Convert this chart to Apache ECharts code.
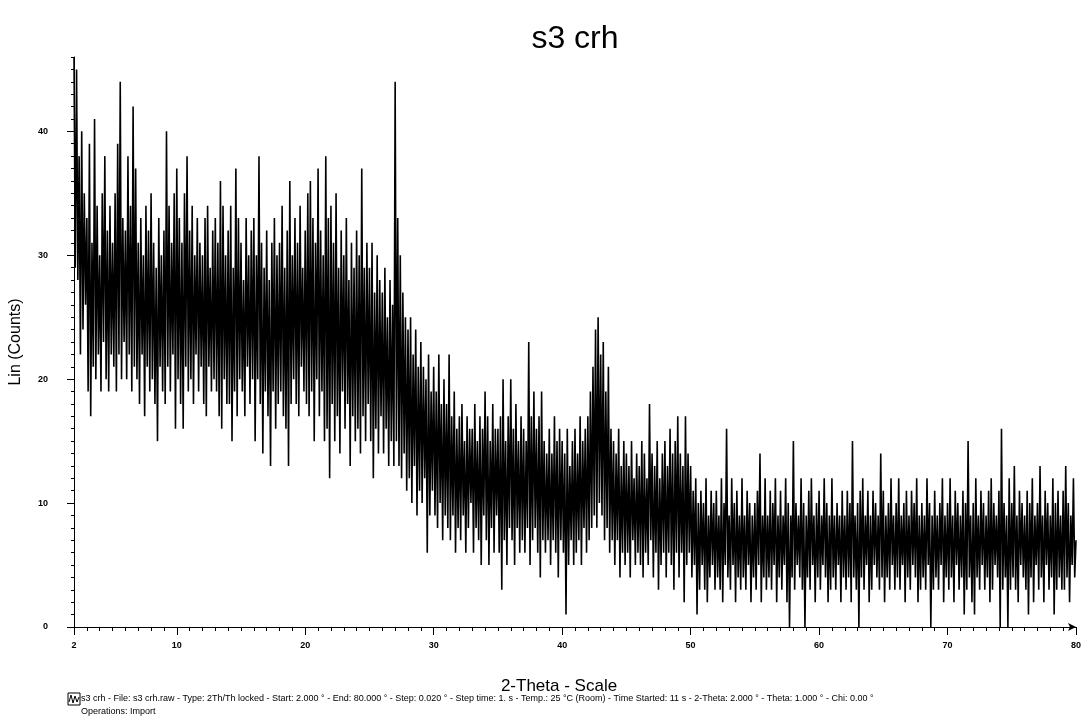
<!DOCTYPE html>
<html>
<head>
<meta charset="utf-8">
<title>s3 crh</title>
<script src="https://cdn.jsdelivr.net/npm/echarts@6.0.0/dist/echarts.min.js"></script>
<style>
  html, body { margin: 0; padding: 0; background: #fff; }
  #chart { width: 1084px; height: 723px; }
</style>
</head>
<body>
<div id="chart"></div>
<script>
// scan settings (read from the footer), the counts are sampled every 0.1 deg
const START = 2
const STEP = 0.1

// counts, one row per degree (2.0 .. 79.9), then 80.0
const counts = [
  46, 29, 45, 28, 38, 22, 40, 24, 35, 26,
  33, 19, 39, 17, 31, 21, 41, 20, 34, 22,
  30, 19, 35, 23, 38, 20, 32, 19, 34, 22,
  31, 21, 35, 19, 39, 22, 44, 20, 33, 23,
  32, 20, 38, 22, 34, 19, 42, 21, 37, 20,
  31, 18, 33, 22, 30, 17, 34, 21, 32, 19,
  35, 20, 31, 18, 29, 15, 33, 21, 30, 19,
  32, 18, 40, 21, 34, 19, 31, 22, 35, 16,
  37, 20, 33, 18, 31, 16, 35, 21, 38, 19,
  32, 20, 34, 18, 30, 22, 33, 19, 31, 21,
  30, 18, 33, 17, 34, 21, 29, 19, 32, 20,
  33, 19, 31, 17, 36, 16, 34, 20, 30, 18,
  32, 18, 34, 15, 29, 19, 37, 17, 33, 20,
  31, 19, 28, 17, 33, 21, 30, 18, 32, 20,
  33, 15, 30, 20, 38, 18, 31, 14, 29, 19,
  32, 17, 28, 13, 31, 19, 33, 16, 30, 18,
  31, 19, 34, 17, 29, 16, 32, 13, 36, 18,
  30, 20, 33, 18, 31, 17, 34, 21, 29, 19,
  32, 18, 35, 17, 36, 19, 33, 15, 31, 20,
  37, 17, 32, 19, 30, 15, 38, 16, 33, 12,
  34, 18, 31, 15, 35, 17, 29, 14, 32, 19,
  30, 16, 33, 18, 28, 13, 31, 17, 29, 15,
  32, 16, 30, 14, 37, 17, 29, 15, 31, 18,
  29, 15, 31, 12, 27, 16, 30, 14, 28, 17,
  27, 14, 29, 16, 25, 13, 28, 15, 26, 13,
  44, 15, 33, 13, 30, 12, 27, 14, 25, 11,
  24, 12, 25, 10, 22, 13, 24, 9, 21, 11,
  23, 10, 21, 12, 20, 6, 22, 9, 19, 11,
  21, 9, 19, 8, 22, 10, 18, 7, 20, 9,
  18, 8, 22, 7, 17, 9, 19, 6, 16, 8,
  17, 7, 18, 9, 15, 6, 17, 8, 16, 10,
  16, 6, 18, 8, 15, 7, 17, 5, 16, 9,
  19, 7, 17, 5, 15, 8, 18, 6, 16, 9,
  16, 6, 17, 3, 20, 7, 15, 5, 17, 8,
  20, 7, 16, 5, 18, 8, 15, 6, 17, 7,
  16, 6, 15, 8, 23, 5, 17, 7, 19, 8,
  16, 6, 17, 4, 19, 7, 15, 6, 14, 7,
  16, 5, 14, 7, 17, 6, 15, 4, 16, 7,
  15, 6, 14, 1, 16, 5, 13, 7, 15, 5,
  16, 6, 14, 7, 17, 5, 15, 8, 16, 6,
  17, 7, 19, 8, 21, 9, 24, 8, 25, 10,
  22, 9, 23, 7, 19, 8, 21, 6, 16, 7,
  15, 5, 14, 7, 16, 4, 13, 6, 15, 5,
  14, 6, 13, 4, 15, 7, 12, 5, 14, 6,
  13, 5, 15, 4, 14, 6, 12, 5, 18, 7,
  14, 4, 13, 6, 15, 3, 12, 5, 14, 6,
  15, 4, 13, 6, 16, 5, 14, 3, 15, 6,
  17, 4, 14, 6, 13, 2, 17, 5, 14, 6,
  13, 4, 11, 5, 12, 1, 10, 3, 11, 5,
  10, 3, 12, 2, 9, 4, 11, 5, 10, 3,
  11, 4, 9, 3, 12, 2, 10, 5, 16, 4,
  9, 3, 12, 5, 10, 2, 11, 4, 9, 3,
  12, 4, 9, 3, 11, 5, 10, 2, 9, 4,
  10, 3, 11, 5, 14, 2, 9, 4, 12, 3,
  9, 4, 11, 3, 10, 5, 12, 2, 9, 4,
  11, 3, 9, 5, 12, 2, 10, 0, 9, 4,
  15, 3, 10, 5, 9, 4, 12, 3, 10, 0,
  9, 4, 11, 3, 12, 5, 9, 2, 10, 4,
  11, 3, 9, 5, 12, 4, 10, 2, 9, 3,
  12, 4, 9, 3, 10, 5, 9, 2, 11, 4,
  9, 3, 11, 4, 10, 2, 15, 4, 9, 3,
  10, 0, 11, 4, 12, 3, 9, 5, 11, 2,
  9, 3, 11, 5, 10, 4, 9, 3, 14, 4,
  11, 2, 9, 4, 10, 3, 12, 5, 9, 3,
  10, 4, 12, 3, 9, 5, 10, 2, 11, 4,
  9, 3, 11, 5, 10, 4, 12, 2, 9, 3,
  10, 4, 9, 3, 12, 5, 10, 0, 9, 3,
  11, 4, 9, 3, 10, 5, 12, 2, 9, 4,
  10, 3, 12, 4, 9, 2, 11, 5, 10, 3,
  9, 4, 11, 1, 10, 3, 15, 4, 9, 2,
  10, 1, 12, 4, 9, 3, 11, 5, 10, 3,
  9, 4, 11, 2, 12, 3, 10, 5, 9, 4,
  11, 0, 16, 3, 10, 4, 9, 0, 12, 3,
  10, 4, 13, 3, 9, 2, 11, 5, 10, 4,
  9, 3, 11, 1, 10, 4, 12, 2, 9, 5,
  10, 3, 13, 4, 9, 2, 11, 5, 10, 3,
  9, 4, 12, 1, 10, 3, 11, 4, 9, 3,
  11, 3, 13, 4, 10, 2, 9, 5, 12, 4,
  7
]

const xTicks = [2, 10, 20, 30, 40, 50, 60, 70, 80]
const yTicks = [0, 10, 20, 30, 40]

const footerLine1 = 's3 crh - File: s3 crh.raw - Type: 2Th/Th locked - Start: 2.000 ° - End: 80.000 ° - Step: 0.020 ° - Step time: 1. s - Temp.: 25 °C (Room) - Time Started: 11 s - 2-Theta: 2.000 ° - Theta: 1.000 ° - Chi: 0.00 °'
const footerLine2 = 'Operations: Import'

const font = 'Arial, "Liberation Sans", sans-serif'

var minorX = []
for (var i = 3; i < 80; i++) {
  if (xTicks.indexOf(i) < 0) minorX.push(i)
}
var minorY = []
for (var j = 1; j <= 46; j++) {
  if (j % 10 !== 0) minorY.push(j)
}

var points = counts.map(function (c, k) {
  return [+(START + k * STEP).toFixed(2), c]
})

var chart = echarts.init(document.getElementById('chart'))
chart.setOption({
  animation: false,
  backgroundColor: '#fff',
  title: {
    text: 's3 crh',
    left: 570,
    top: 18,
    textAlign: 'center',
    textStyle: { fontFamily: font, fontSize: 32, fontWeight: 'normal', color: '#000' }
  },
  grid: { left: 73, right: 4, top: 57, bottom: 96 },
  xAxis: [
    {
      type: 'value',
      min: 2,
      max: 80,
      name: '2-Theta - Scale',
      nameLocation: 'middle',
      nameGap: 51,
      nameTextStyle: { fontFamily: font, fontSize: 17, color: '#000', padding: [0, 32, 0, 0] },
      axisLine: { lineStyle: { color: '#000', width: 1 }, symbol: ['none', 'arrow'], symbolSize: [6, 8] },
      axisTick: { customValues: xTicks, length: 8, lineStyle: { color: '#000' } },
      axisLabel: { customValues: xTicks, margin: 14, fontFamily: font, fontSize: 9, fontWeight: 'bold', color: '#000' },
      splitLine: { show: false }
    },
    {
      type: 'value',
      min: 2,
      max: 80,
      position: 'bottom',
      axisLine: { show: false },
      axisTick: { customValues: minorX, length: 4, lineStyle: { color: '#000' } },
      axisLabel: { show: false },
      splitLine: { show: false }
    }
  ],
  yAxis: [
    {
      type: 'value',
      min: 0,
      max: 46,
      interval: 10,
      name: 'Lin (Counts)',
      nameLocation: 'middle',
      nameGap: 50,
      nameTextStyle: { fontFamily: font, fontSize: 16, color: '#000' },
      axisLine: { show: true, lineStyle: { color: '#000', width: 1 } },
      axisTick: { show: true, customValues: yTicks, length: 7, lineStyle: { color: '#000' } },
      axisLabel: { customValues: yTicks, margin: 26, fontFamily: font, fontSize: 9, fontWeight: 'bold', color: '#000' },
      splitLine: { show: false }
    },
    {
      type: 'value',
      min: 0,
      max: 46,
      position: 'left',
      axisLine: { show: false },
      axisTick: { show: true, customValues: minorY, length: 3, lineStyle: { color: '#000' } },
      axisLabel: { show: false },
      splitLine: { show: false }
    }
  ],
  series: [
    {
      type: 'line',
      data: points,
      showSymbol: false,
      sampling: null,
      lineStyle: { color: '#000', width: 1.6 },
      itemStyle: { color: '#000' }
    }
  ],
  graphic: [
    {
      type: 'rect',
      shape: { x: 68, y: 693, width: 12, height: 12 },
      style: { fill: '#fff', stroke: '#000', lineWidth: 1 }
    },
    {
      type: 'polyline',
      shape: { points: [[69, 702], [71, 695], [73, 703], [75, 696], [77, 702], [79, 697]] },
      style: { fill: null, stroke: '#000', lineWidth: 1 }
    },
    {
      type: 'text',
      left: 81,
      top: 694,
      style: { text: footerLine1, font: '9px ' + font, fill: '#000' }
    },
    {
      type: 'text',
      left: 81,
      top: 707,
      style: { text: footerLine2, font: '9px ' + font, fill: '#000' }
    }
  ]
})
</script>
</body>
</html>
